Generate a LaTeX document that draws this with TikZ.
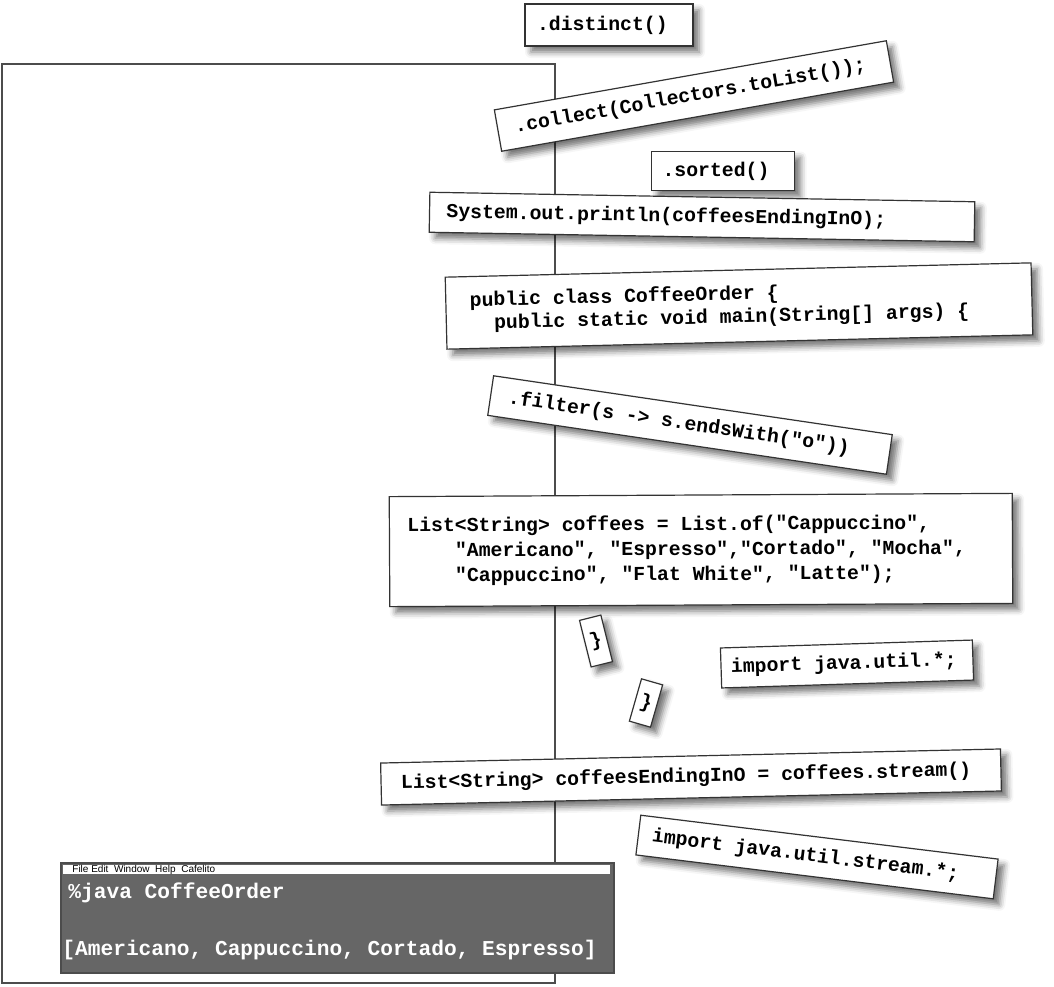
\documentclass[tikz,border=0pt]{standalone}
\usepackage{fontspec}
\setmonofont{Liberation Mono}
\newfontfamily\menufont{Liberation Sans}
\usepackage{tikz}
\usetikzlibrary{shadows.blur}
\definecolor{termgray}{HTML}{666666}
\tikzstyle{frame} = [draw=black!70, line width=1pt]
\tikzstyle{card} = [draw=black!80, fill=white, line width=0.6pt, align=left, inner ysep=0pt, blur shadow={shadow xshift=3pt, shadow yshift=-3pt, shadow blur radius=3pt, shadow opacity=55}, font={\ttfamily\bfseries\fontsize{9.9}{12.5}\selectfont}, execute at begin node={\spaceskip=0pt\xspaceskip=0pt}]
\tikzstyle{bracecard} = [card, align=center, inner sep=0pt, minimum width=11pt]
\tikzstyle{termtext} = [text=white, anchor=base west, inner sep=0pt, font={\ttfamily\bfseries\fontsize{10.6}{12}\selectfont}]

\begin{document}
\begin{tikzpicture}[x=0.5pt, y=-0.5pt]
    \useasboundingbox (0,0) rectangle (1054,986);
    \draw[frame] (2,64) rectangle (555,983);
    \node[card, minimum height=21pt, text width=72pt, inner xsep=6pt](distinct) at (609,25) {.distinct()};
    \node[card, rotate=10, minimum height=21pt, text width=182pt, inner xsep=8.5pt](collect) at (694,96) {.collect(Collectors.toList());};
    \node[card, minimum height=19.5pt, text width=60.5pt, inner xsep=5.5pt](sorted) at (723,171) {.sorted()};
    \node[card, rotate=-1, minimum height=20pt, text width=255.5pt, inner xsep=8.5pt](println) at (702,217) {System.out.println(coffeesEndingInO);};
    \node[card, rotate=1.4, minimum height=36pt, text width=269pt, inner xsep=12pt, font={\ttfamily\bfseries\fontsize{9.9}{11.5}\selectfont}](class) at (739,306) {public class CoffeeOrder \{\\\hphantom{xx}public static void main(String[] args) \{};
    \node[card, rotate=-8.4, minimum height=20pt, text width=183.5pt, inner xsep=9pt](filter) at (690,425) {.filter(s -> s.endsWith("o"))};
    \node[card, rotate=0.3, minimum height=55pt, text width=293.5pt, inner xsep=9pt](coffees) at (701,550) {List<String> coffees = List.of("Cappuccino",\\\hphantom{xxxx}"Americano", "Espresso","Cortado", "Mocha",\\\hphantom{xxxx}"Cappuccino", "Flat White", "Latte");};
    \node[bracecard, rotate=14, minimum height=24pt](brace1) at (596,641) {\}};
    \node[bracecard, rotate=-16, minimum height=22pt](brace2) at (646,703) {\}};
    \node[card, rotate=1.8, minimum height=20pt, text width=116pt, inner xsep=5pt](util) at (847,664) {import java.util.*;};
    \node[card, rotate=1.3, minimum height=21pt, text width=290pt, inner xsep=10pt](ending) at (691,777) {List<String> coffeesEndingInO = coffees.stream()};
    \node[card, rotate=-7, minimum height=20pt, text width=166pt, inner xsep=7pt](stream) at (817,857) {import java.util.stream.*;};
    % terminal window
    \node[draw=black!70, fill=termgray, line width=1pt, minimum width=276.5pt, minimum height=55pt, anchor=north west, inner sep=0pt](term) at (60,862) {};
    \node[fill=white, minimum width=273.5pt, minimum height=4.5pt, anchor=north west, inner sep=0pt](menu) at (63,865) {};
    \node[anchor=west, inner sep=0pt, font={\menufont\fontsize{5}{5}\selectfont}](menutext) at (72,869.5) {File\ Edit\ \ Window\ \ Help\ \ Cafelito};
    \node[termtext](cmd) at (68,898) {\%java CoffeeOrder};
    \node[termtext](result) at (62,955) {[Americano, Cappuccino, Cortado, Espresso]};
\end{tikzpicture}
\end{document}
